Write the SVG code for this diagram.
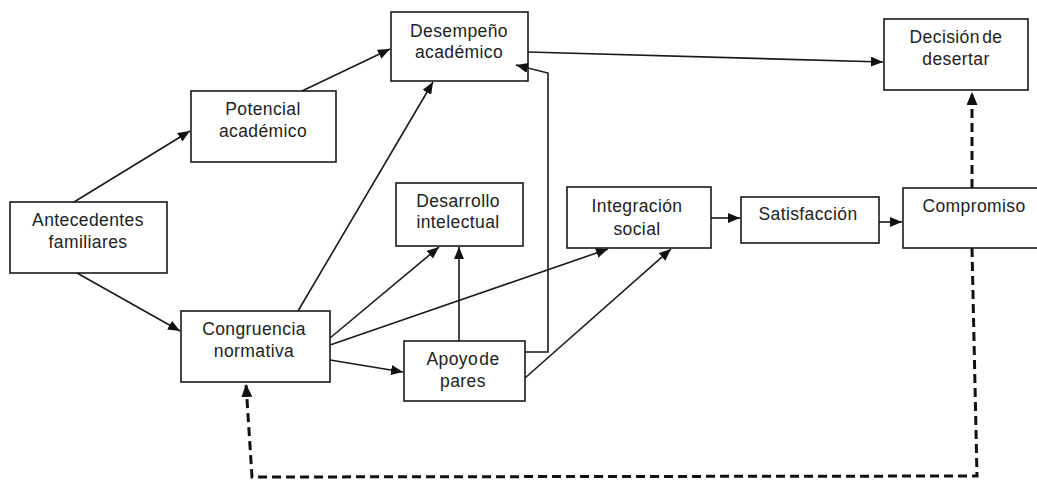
<svg xmlns="http://www.w3.org/2000/svg" width="1037" height="481" viewBox="0 0 1037 481">
<style>
.box{fill:#fff;stroke:#1a1a1a;stroke-width:1.6}
.t{font-family:"Liberation Sans",Arial,sans-serif;font-size:17.5px;fill:#222;text-anchor:middle;letter-spacing:0.4px}
.c{fill:none;stroke:#1a1a1a;stroke-width:1.6}
.d{fill:none;stroke:#111;stroke-width:3;stroke-dasharray:9 5}
</style>
<defs>
<marker id="a" markerUnits="userSpaceOnUse" markerWidth="12" markerHeight="10" refX="12" refY="5" orient="auto">
<path d="M0,0 L12,5 L0,10 z" fill="#111"/>
</marker>
<marker id="ad" markerUnits="userSpaceOnUse" markerWidth="13" markerHeight="11" refX="13" refY="5.5" orient="auto">
<path d="M0,0 L13,5.5 L0,11 z" fill="#111"/>
</marker>
</defs>
<rect width="1037" height="481" fill="#fff"/>
<g id="antecedentes">
<rect class="box" x="10" y="202" width="157" height="71"/>
<text class="t" x="88" y="226">Antecedentes</text>
<text class="t" x="88" y="248">familiares</text>
</g>
<g id="potencial">
<rect class="box" x="191" y="91" width="145" height="71"/>
<text class="t" x="263" y="115">Potencial</text>
<text class="t" x="263" y="137">académico</text>
</g>
<g id="desempeno">
<rect class="box" x="391" y="12" width="137" height="69"/>
<text class="t" x="459" y="37">Desempeño</text>
<text class="t" x="459" y="58">académico</text>
</g>
<g id="decision">
<rect class="box" x="884" y="19" width="144" height="71"/>
<text class="t" x="956" y="43" word-spacing="-3">Decisión de</text>
<text class="t" x="956" y="65">desertar</text>
</g>
<g id="desarrollo">
<rect class="box" x="396" y="183" width="127" height="63"/>
<text class="t" x="458" y="207">Desarrollo</text>
<text class="t" x="458" y="228">intelectual</text>
</g>
<g id="integracion">
<rect class="box" x="567" y="187" width="144" height="61"/>
<text class="t" x="637" y="212">Integración</text>
<text class="t" x="637" y="235">social</text>
</g>
<g id="satisfaccion">
<rect class="box" x="741" y="197" width="138" height="46"/>
<text class="t" x="808" y="220">Satisfacción</text>
</g>
<g id="compromiso">
<rect class="box" x="903" y="188" width="142" height="60"/>
<text class="t" x="974" y="212">Compromiso</text>
</g>
<g id="congruencia">
<rect class="box" x="181" y="311" width="149" height="71"/>
<text class="t" x="254" y="335">Congruencia</text>
<text class="t" x="254" y="357">normativa</text>
</g>
<g id="apoyo">
<rect class="box" x="404" y="341" width="121" height="60"/>
<text class="t" x="463" y="365" word-spacing="-4">Apoyo de</text>
<text class="t" x="463" y="387">pares</text>
</g>
<g id="connectors">
<path class="c" d="M74,202 L190,131" marker-end="url(#a)"/>
<path class="c" d="M77,273 L180,331" marker-end="url(#a)"/>
<path class="c" d="M302,91 L390,49" marker-end="url(#a)"/>
<path class="c" d="M298,311 L433,82" marker-end="url(#a)"/>
<path class="c" d="M330,338 L439,247" marker-end="url(#a)"/>
<path class="c" d="M330,345 L608,249" marker-end="url(#a)"/>
<path class="c" d="M330,360 L403,372" marker-end="url(#a)"/>
<path class="c" d="M459,341 L459,247" marker-end="url(#a)"/>
<path class="c" d="M525,352 L548,352 L548,73 L516,65" marker-end="url(#a)"/>
<path class="c" d="M525,378 L671,249" marker-end="url(#a)"/>
<path class="c" d="M528,52 L883,62" marker-end="url(#a)"/>
<path class="c" d="M711,218 L740,218" marker-end="url(#a)"/>
<path class="c" d="M879,222 L902,222" marker-end="url(#a)"/>
<path class="d" d="M972,188 L972,92" marker-end="url(#ad)"/>
<path class="d" d="M972,248 L977,476 L252,477 L246,384" marker-end="url(#ad)"/>
</g>
</svg>
